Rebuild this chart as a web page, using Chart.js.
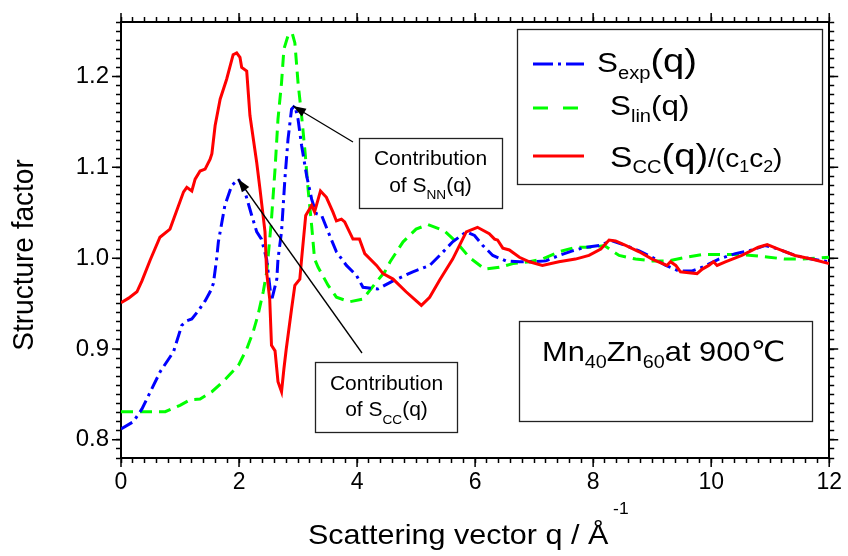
<!DOCTYPE html>
<html>
<head>
<meta charset="utf-8">
<script src="https://cdn.jsdelivr.net/npm/chart.js@4.4.1/dist/chart.umd.min.js"></script>
<style>
  body { margin: 0; background: #fff; }
  canvas { display: block; }
</style>
</head>
<body>
<canvas id="chart" width="848" height="556"></canvas>
<script>
// S_exp(q), blue dash-dot
const qExp = [0, 0.21, 0.355, 0.664, 0.89, 1.03, 1.115, 1.2, 1.31, 1.425, 1.51, 1.565, 1.62, 1.65, 1.76,
  1.876, 1.99, 2.1, 2.215, 2.3, 2.38, 2.467, 2.55, 2.64, 2.66, 2.72, 2.777, 2.83, 2.89, 2.946,
  3.0, 3.06, 3.145, 3.23, 3.31, 3.4, 3.51, 3.65, 3.82, 3.99, 4.1, 4.35, 4.61, 4.945, 5.23,
  5.4, 5.62, 5.85, 5.99, 6.13, 6.3, 6.52, 6.75, 6.97, 7.2, 7.42, 7.65, 7.87, 8.1, 8.32,
  8.55, 8.78, 9.0, 9.23, 9.45, 9.68, 9.85, 10.13, 10.41, 10.69, 10.92, 11.14, 11.42, 11.7, 12];
const sExp = [0.812, 0.820, 0.834, 0.875, 0.897, 0.926, 0.931, 0.933, 0.942, 0.953, 0.963, 0.972, 0.999, 1.018, 1.058,
  1.080, 1.087, 1.073, 1.047, 1.029, 1.021, 0.999, 0.953, 0.977, 0.999, 1.029, 1.087, 1.131, 1.164, 1.168,
  1.153, 1.124, 1.091, 1.065, 1.049, 1.047, 1.029, 1.007, 0.992, 0.981, 0.968, 0.966, 0.975, 0.985, 0.992,
  1.003, 1.018, 1.029, 1.025, 1.014, 1.003, 0.997, 0.996, 0.996, 0.997, 1.003, 1.008, 1.012, 1.014, 1.019,
  1.014, 1.008, 1.001, 0.992, 0.986, 0.986, 0.990, 0.999, 1.005, 1.009, 1.014, 1.010, 1.003, 0.999, 0.996];

// S_lin(q), green dashed
const qLin = [0, 0.75, 1.0, 1.17, 1.34, 1.54, 1.73, 1.99, 2.13, 2.24, 2.32, 2.41, 2.47, 2.495, 2.55,
  2.61, 2.66, 2.72, 2.76, 2.83, 2.9, 2.946, 3.0, 3.06, 3.12, 3.17, 3.23, 3.28, 3.34, 3.51,
  3.65, 3.875, 4.1, 4.33, 4.47, 4.56, 4.78, 5.0, 5.2, 5.48, 5.68, 5.9, 6.16, 6.41, 6.64,
  6.92, 7.14, 7.42, 7.7, 7.99, 8.19, 8.44, 8.72, 9.0, 9.28, 9.57, 9.85, 10.13, 10.41, 10.69,
  10.98, 11.26, 11.55, 12];
const sLin = [0.831, 0.831, 0.838, 0.844, 0.845, 0.853, 0.864, 0.882, 0.900, 0.919, 0.937, 0.963, 0.985, 1.003, 1.043,
  1.098, 1.153, 1.193, 1.230, 1.245, 1.248, 1.237, 1.193, 1.157, 1.116, 1.076, 1.036, 0.999, 0.990, 0.970,
  0.957, 0.952, 0.955, 0.974, 0.985, 0.996, 1.018, 1.032, 1.037, 1.030, 1.018, 1.001, 0.988, 0.990, 0.994,
  0.996, 0.999, 1.007, 1.012, 1.012, 1.014, 1.003, 0.999, 0.997, 0.997, 1.001, 1.004, 1.004, 1.004, 1.003,
  1.001, 0.999, 0.999, 1.001];

// S_CC(q)/(c1c2), red solid
const qCC = [0, 0.129, 0.27, 0.355, 0.495, 0.66, 0.83, 1.06, 1.115, 1.2, 1.256, 1.34, 1.425, 1.51, 1.54,
  1.595, 1.68, 1.79, 1.9, 1.96, 2.016, 2.045, 2.13, 2.185, 2.3, 2.355, 2.44, 2.467, 2.52, 2.55,
  2.61, 2.66, 2.72, 2.76, 2.8, 2.89, 2.946, 3.03, 3.06, 3.13, 3.23, 3.28, 3.38, 3.48, 3.59,
  3.65, 3.735, 3.79, 3.93, 4.04, 4.13, 4.33, 4.44, 4.61, 4.83, 4.97, 5.09, 5.23, 5.4, 5.62,
  5.85, 6.04, 6.24, 6.33, 6.38, 6.47, 6.58, 6.75, 6.92, 7.14, 7.42, 7.7, 7.93, 8.13, 8.27,
  8.38, 8.55, 8.78, 9.0, 9.25, 9.31, 9.4, 9.48, 9.62, 9.76, 9.85, 9.96, 10.04, 10.1, 10.24,
  10.52, 10.8, 10.95, 11.14, 11.42, 11.7, 12];
const sCC = [0.951, 0.956, 0.963, 0.975, 0.998, 1.023, 1.032, 1.073, 1.078, 1.074, 1.087, 1.096, 1.098, 1.109, 1.115,
  1.146, 1.175, 1.197, 1.224, 1.226, 1.221, 1.21, 1.206, 1.157, 1.105, 1.076, 1.029, 0.985, 0.955, 0.904,
  0.898, 0.864, 0.853, 0.878, 0.9, 0.944, 0.97, 0.977, 0.999, 1.047, 1.058, 1.051, 1.074, 1.067, 1.051,
  1.041, 1.043, 1.04, 1.021, 1.021, 1.005, 0.992, 0.983, 0.977, 0.963, 0.955, 0.948, 0.957, 0.976, 0.999,
  1.029, 1.034, 1.027, 1.021, 1.02, 1.011, 1.009, 1.001, 0.996, 0.992, 0.996, 0.999, 1.003, 1.01, 1.02,
  1.019, 1.014, 1.007, 0.999, 0.992, 0.996, 0.992, 0.985, 0.984, 0.983, 0.988, 0.992, 0.996, 0.992, 0.996,
  1.003, 1.012, 1.015, 1.01, 1.003, 0.999, 0.994];

// axis ranges and tick labels
const xRange = [0, 12];
const yRange = [0.78, 1.26];
const xMajor = [0, 2, 4, 6, 8, 10, 12];
const yMajor = [0.8, 0.9, 1.0, 1.1, 1.2];

const FONT = "'Liberation Sans', Arial, 'DejaVu Sans', sans-serif";
const SX = 1.12; // the source text is drawn a bit wide

function pts(xs, ys) {
  return xs.map((x, i) => ({ x: x, y: ys[i] }));
}

function isMajor(v, list) {
  return list.some(m => Math.abs(m - v) < 1e-6);
}

// draws a run of text pieces (for sub/superscripts)
function richText(ctx, x, y, parts, align, sx) {
  sx = sx || SX;
  let w = 0;
  parts.forEach(p => {
    ctx.font = p[1] + 'px ' + FONT;
    w += ctx.measureText(p[0]).width * sx;
  });
  let cx = align === 'center' ? x - w / 2 : x;
  ctx.textAlign = 'left';
  ctx.textBaseline = 'alphabetic';
  parts.forEach(p => {
    ctx.font = p[1] + 'px ' + FONT;
    ctx.save();
    ctx.translate(cx, y + (p[2] || 0));
    ctx.scale(sx, 1);
    ctx.fillText(p[0], 0, 0);
    ctx.restore();
    cx += ctx.measureText(p[0]).width * sx;
  });
}

function arrow(ctx, x1, y1, x2, y2) {
  ctx.beginPath();
  ctx.moveTo(x1, y1);
  ctx.lineTo(x2, y2);
  ctx.stroke();
  const a = Math.atan2(y2 - y1, x2 - x1);
  const len = 13, hw = 4.5;
  ctx.beginPath();
  ctx.moveTo(x2, y2);
  ctx.lineTo(x2 - len * Math.cos(a) + hw * Math.sin(a), y2 - len * Math.sin(a) - hw * Math.cos(a));
  ctx.lineTo(x2 - len * Math.cos(a) - hw * Math.sin(a), y2 - len * Math.sin(a) + hw * Math.cos(a));
  ctx.closePath();
  ctx.fill();
}

const decor = {
  id: 'decor',
  afterDraw(chart) {
    const ctx = chart.ctx;
    const a = chart.chartArea;
    const xs = chart.scales.x, ys = chart.scales.y;
    ctx.save();
    ctx.strokeStyle = '#000';
    ctx.fillStyle = '#000';

    // longer major ticks on all four sides
    ctx.lineWidth = 1.5;
    ctx.beginPath();
    xMajor.forEach(v => {
      const p = xs.getPixelForValue(v);
      ctx.moveTo(p, a.bottom); ctx.lineTo(p, a.bottom + 9);
      ctx.moveTo(p, a.top); ctx.lineTo(p, a.top - 9);
    });
    yMajor.forEach(v => {
      const p = ys.getPixelForValue(v);
      ctx.moveTo(a.left, p); ctx.lineTo(a.left - 9, p);
      ctx.moveTo(a.right, p); ctx.lineTo(a.right + 9, p);
    });
    ctx.stroke();

    // axis titles
    ctx.save();
    ctx.translate(33, 255);
    ctx.rotate(-Math.PI / 2);
    ctx.font = '28px ' + FONT;
    ctx.textAlign = 'center';
    ctx.textBaseline = 'alphabetic';
    ctx.scale(1, 1.08);
    ctx.fillText('Structure factor', 0, 0);
    ctx.restore();
    richText(ctx, 308, 544, [['Scattering vector q / Å', 28, 0], [' -1', 16, -30]], 'left', 1.09);

    // legend
    ctx.lineWidth = 1.3;
    ctx.strokeStyle = '#222';
    ctx.strokeRect(517.5, 29.5, 305, 155);
    ctx.lineWidth = 3;
    ctx.strokeStyle = '#0000ff';
    ctx.setLineDash([20, 5, 3, 5]);
    ctx.beginPath(); ctx.moveTo(533, 64); ctx.lineTo(584, 64); ctx.stroke();
    ctx.strokeStyle = '#00ff00';
    ctx.setLineDash([15, 15]);
    ctx.beginPath(); ctx.moveTo(533, 108); ctx.lineTo(579, 108); ctx.stroke();
    ctx.strokeStyle = '#ff0000';
    ctx.setLineDash([]);
    ctx.beginPath(); ctx.moveTo(533, 156); ctx.lineTo(584, 156); ctx.stroke();
    richText(ctx, 597, 72, [['S', 28, 0], ['exp', 18, 7], ['(q)', 34, 0]], 'left');
    richText(ctx, 610, 115, [['S', 28, 0], ['lin', 18, 7], ['(q)', 28, 0]], 'left');
    richText(ctx, 610, 167, [['S', 30, 0], ['CC', 18, 6], ['(q)', 34, 0], ['/(c', 25, 0], ['1', 16, 5],
      ['c', 25, 0], ['2', 16, 5], [')', 25, 0]], 'left');

    // note boxes
    ctx.lineWidth = 1.3;
    ctx.strokeStyle = '#222';
    ctx.strokeRect(359.5, 138.5, 143, 70);
    ctx.strokeRect(315.5, 362.5, 142, 70);
    ctx.strokeRect(519.5, 321.5, 293, 100);
    richText(ctx, 430.5, 165, [['Contribution', 20, 0]], 'center', 1.05);
    richText(ctx, 430.5, 192, [['of S', 20, 0], ['NN', 13, 7], ['(q)', 20, 0]], 'center', 1.05);
    richText(ctx, 386.5, 390, [['Contribution', 20, 0]], 'center', 1.05);
    richText(ctx, 386.5, 416, [['of S', 20, 0], ['CC', 13, 8], ['(q)', 20, 0]], 'center', 1.05);
    richText(ctx, 542, 361, [['Mn', 28, 0], ['40', 18, 7], ['Zn', 28, 0], ['60', 18, 7], ['at 900℃', 28, 0]], 'left', 1.1);

    // arrows
    ctx.strokeStyle = '#000';
    ctx.lineWidth = 1.3;
    arrow(ctx, 353, 142, 293, 106);
    arrow(ctx, 362, 353, 238, 179);
    ctx.restore();
  }
};

const tickFont = { family: FONT, size: 23 };
const gridOpts = { drawOnChartArea: false, tickLength: 5, tickColor: '#000', tickWidth: 1.5 };
const borderOpts = { color: '#000', width: 2 };

new Chart(document.getElementById('chart'), {
  type: 'line',
  data: {
    datasets: [
      {
        label: 'S_CC(q)/(c1c2)',
        data: pts(qCC, sCC),
        borderColor: '#ff0000',
        borderWidth: 3
      },
      {
        label: 'S_exp(q)',
        data: pts(qExp, sExp),
        borderColor: '#0000ff',
        borderWidth: 3,
        borderDash: [13, 5, 3, 5]
      },
      {
        label: 'S_lin(q)',
        data: pts(qLin, sLin),
        borderColor: '#00ff00',
        borderWidth: 3,
        borderDash: [12, 7]
      }
    ]
  },
  options: {
    responsive: false,
    animation: false,
    layout: { padding: { top: 22, right: 17, left: 0, bottom: 0 } },
    elements: { point: { radius: 0 }, line: { tension: 0, fill: false } },
    plugins: { legend: { display: false }, tooltip: { enabled: false } },
    scales: {
      x: {
        type: 'linear', position: 'bottom', min: xRange[0], max: xRange[1],
        ticks: {
          stepSize: 0.2, autoSkip: false, maxRotation: 0, padding: 6, color: '#000', font: tickFont,
          callback: v => isMajor(v, xMajor) ? String(Math.round(v)) : ''
        },
        grid: gridOpts, border: borderOpts,
        afterFit: s => { s.height = 98; }
      },
      x2: {
        type: 'linear', position: 'top', min: xRange[0], max: xRange[1],
        ticks: { stepSize: 0.2, autoSkip: false, display: false },
        grid: gridOpts, border: borderOpts,
        afterFit: s => { s.height = 0; }
      },
      y: {
        type: 'linear', position: 'left', min: yRange[0], max: yRange[1],
        ticks: {
          stepSize: 0.01, autoSkip: false, padding: 7, color: '#000', font: { family: FONT, size: 24 },
          callback: v => isMajor(v, yMajor) ? v.toFixed(1) : ''
        },
        grid: gridOpts, border: borderOpts,
        afterFit: s => { s.width = 121; }
      },
      y2: {
        type: 'linear', position: 'right', min: yRange[0], max: yRange[1],
        ticks: { stepSize: 0.01, autoSkip: false, display: false },
        grid: gridOpts, border: borderOpts,
        afterFit: s => { s.width = 0; }
      }
    }
  },
  plugins: [decor]
});
</script>
</body>
</html>
